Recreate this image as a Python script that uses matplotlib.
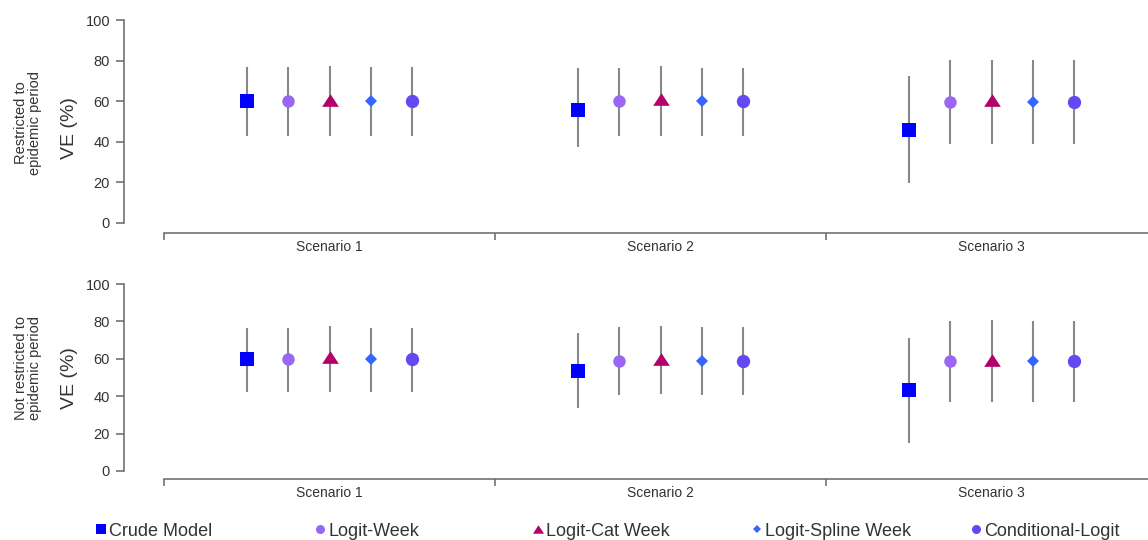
import matplotlib
matplotlib.use("Agg")
import matplotlib.pyplot as plt
from matplotlib.lines import Line2D
import numpy as np

plt.rcParams['font.family'] = ['Liberation Sans', 'DejaVu Sans']

scenarios = ['Scenario 1', 'Scenario 2', 'Scenario 3']
models = ['Crude Model', 'Logit-Week', 'Logit-Cat Week', 'Logit-Spline Week', 'Conditional-Logit']
colors = ['#0000ff', '#9966f5', '#b3006b', '#3366ff', '#6648f2']
panel_labels = ['Restricted to\nepidemic period', 'Not restricted to\nepidemic period']
yticks = [0, 20, 40, 60, 80, 100]

# VE point estimates and CI [scenario][model]
ve_restricted = [[60.0, 60.0, 60.7, 60.0, 60.0],
                 [55.7, 60.2, 61.2, 60.2, 60.2],
                 [45.8, 59.8, 60.6, 59.8, 59.8]]
lo_restricted = [[42.9, 42.9, 42.9, 42.9, 42.9],
                 [37.3, 42.9, 42.9, 42.9, 42.9],
                 [19.5, 38.8, 38.8, 38.8, 38.8]]
hi_restricted = [[76.7, 76.7, 77.3, 76.7, 76.7],
                 [76.5, 76.5, 77.3, 76.5, 76.5],
                 [72.6, 80.3, 80.3, 80.3, 80.3]]

ve_notrestricted = [[59.7, 60.0, 61.0, 60.0, 60.0],
                    [53.5, 59.0, 60.0, 59.0, 59.0],
                    [43.3, 58.8, 59.6, 58.8, 58.8]]
lo_notrestricted = [[42.4, 42.4, 42.4, 42.4, 42.4],
                    [33.9, 40.8, 41.2, 40.8, 40.8],
                    [15.1, 37.0, 37.0, 37.0, 37.0]]
hi_notrestricted = [[76.3, 76.3, 77.5, 76.3, 76.3],
                    [73.6, 77.2, 77.5, 77.2, 77.2],
                    [71.3, 80.2, 80.7, 80.2, 80.2]]

tri = [(-1, -0.76), (1, -0.76), (0, 0.76)]
markers = ['s', 'o', tri, 'D', 'o']
msizes = [9.4, 9.0, 12.0, 5.8, 9.6]
leg_msizes = [6.5, 6.5, 8.0, 4.2, 6.5]

W, H = 1148, 540
fig = plt.figure(figsize=(W / 100, H / 100), dpi=100)

text_col = '#333333'
axis_col = '#666666'

panels = [
    dict(top=20, zero=223, line=233, ve=ve_restricted, lo=lo_restricted, hi=hi_restricted,
         label=panel_labels[0], ve_y=128, lab_y=123),
    dict(top=284, zero=471, line=479, ve=ve_notrestricted, lo=lo_notrestricted, hi=hi_notrestricted,
         label=panel_labels[1], ve_y=378, lab_y=368),
]

left_px = 124
x0_px = 164
unit_px = 331.0
offsets = np.array([-0.25, -0.125, 0.0, 0.125, 0.25])

for p in panels:
    ppu = (p['zero'] - p['top']) / 100.0
    ybot = -(p['line'] - p['zero']) / ppu
    ax = fig.add_axes([left_px / W, 1 - p['line'] / H, 1 - left_px / W, (p['line'] - p['top']) / H])
    ax.patch.set_alpha(0)
    for s in ['top', 'right']:
        ax.spines[s].set_visible(False)
    ax.set_yticks(yticks)
    ax.set_yticklabels([str(v) for v in yticks])
    ax.tick_params(axis='y', direction='out', length=6, width=1.1, color=axis_col,
                   labelsize=10.5, labelcolor=text_col, pad=4)
    ax.set_xticks([0, 1, 2, 3])
    ax.set_xticklabels(['', '', '', ''])
    ax.set_xticks([0.5, 1.5, 2.5], minor=True)
    ax.set_xticklabels(scenarios, minor=True)
    ax.tick_params(axis='x', which='major', direction='out', length=5, width=1.1, color=axis_col)
    ax.tick_params(axis='x', which='minor', length=0, labelsize=10, labelcolor=text_col, pad=5)

    for g in range(len(scenarios)):
        for m in range(len(models)):
            xv = g + 0.5 + offsets[m]
            ax.plot([xv, xv], [p['lo'][g][m], p['hi'][g][m]], color='#888888', lw=1.5,
                    solid_capstyle='butt', zorder=2)
            ax.plot([xv], [p['ve'][g][m]], linestyle='none', marker=markers[m],
                    markersize=msizes[m], color=colors[m], markeredgewidth=0, zorder=3)

    ax.set_ylim(ybot, 100)
    ax.set_xlim(-(x0_px - left_px) / unit_px, (W - x0_px) / unit_px)
    ax.spines['left'].set_bounds(0, 100)
    ax.spines['bottom'].set_bounds(0, 3)
    for s in ['left', 'bottom']:
        ax.spines[s].set_color(axis_col)
        ax.spines[s].set_linewidth(1.1)

    fig.text(70 / W, 1 - p['ve_y'] / H, 'VE (%)', rotation=90, ha='center', va='center',
             fontsize=14, color=text_col)
    fig.text(28 / W, 1 - p['lab_y'] / H, p['label'], rotation=90, ha='center', va='center',
             fontsize=10.5, color=text_col, multialignment='center', linespacing=1.05)

# legend: five separate entries
leg_centers = [101, 320, 538, 757, 976]
fs = 13
for m in range(len(models)):
    h = Line2D([], [], linestyle='none', marker=markers[m], markersize=leg_msizes[m],
               color=colors[m], markeredgewidth=0)
    hl = 0.6
    x_left = leg_centers[m] - hl * fs * 100 / 72 / 2
    fig.legend(handles=[h], labels=[models[m]], loc='center left',
               bbox_to_anchor=(x_left / W, 1 - 531 / H), frameon=False, fontsize=fs,
               handlelength=hl, handletextpad=0.15, borderpad=0, borderaxespad=0,
               labelcolor=text_col)

fig.savefig('out.png', dpi=100)
